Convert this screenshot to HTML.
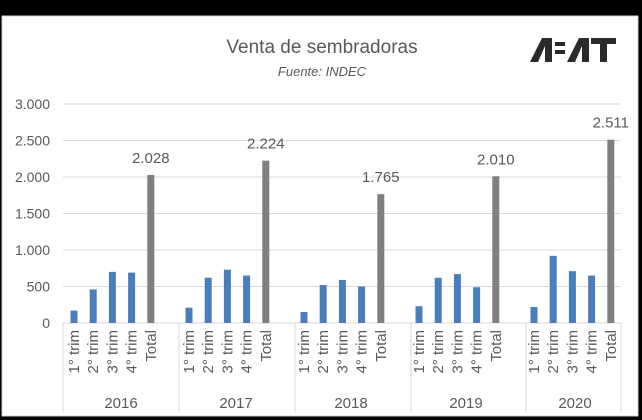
<!DOCTYPE html>
<html><head><meta charset="utf-8"><style>
html,body{margin:0;padding:0;background:#000;}
svg{display:block;}
text{font-family:"Liberation Sans",sans-serif;fill:#595959;}
</style></head><body>
<svg width="642" height="420" viewBox="0 0 642 420">
<rect x="0" y="0" width="642" height="420" fill="#000"/>
<rect x="2" y="16" width="636" height="400" fill="#fff" stroke="#d0d0d0" stroke-width="1"/>
<text x="322" y="53" font-size="19" text-anchor="middle">Venta de sembradoras</text>
<text x="322" y="76" font-size="13" font-style="italic" text-anchor="middle">Fuente: INDEC</text>
<g fill="#2a2a2a">
<polygon points="530,62 542,38 552,38 552,62 545,62 545,46 538,62"/>
<rect x="555" y="42" width="10" height="4"/><rect x="555" y="50" width="10" height="4"/>
<polygon points="567,62 579,38 589,38 589,62 582,62 582,46 575,62"/>
<rect x="591" y="38" width="25" height="6"/><rect x="600" y="38" width="7" height="24"/>
</g>
<g stroke="#d9d9d9" stroke-width="1">
<line x1="63" y1="104" x2="621" y2="104"/><line x1="63" y1="140.5" x2="621" y2="140.5"/>
<line x1="63" y1="177" x2="621" y2="177"/><line x1="63" y1="213.5" x2="621" y2="213.5"/>
<line x1="63" y1="250" x2="621" y2="250"/><line x1="63" y1="286.5" x2="621" y2="286.5"/>
<line x1="63" y1="323" x2="621" y2="323"/>
<line x1="63" y1="323" x2="63" y2="412"/><line x1="179" y1="323" x2="179" y2="412"/>
<line x1="295" y1="323" x2="295" y2="412"/><line x1="411" y1="323" x2="411" y2="412"/>
<line x1="526" y1="323" x2="526" y2="412"/><line x1="621" y1="323" x2="621" y2="412"/>
</g>
<g font-size="14" text-anchor="end">
<text x="50" y="109">3.000</text><text x="50" y="145.5">2.500</text><text x="50" y="182">2.000</text>
<text x="50" y="218.5">1.500</text><text x="50" y="255">1.000</text><text x="50" y="291.5">500</text><text x="50" y="328">0</text>
</g>
<g id="bars"></g>
</svg>
<script>
var data=[[2016,[170,460,700,690,2028],"2.028"],[2017,[210,620,730,650,2224],"2.224"],[2018,[150,520,590,500,1765],"1.765"],[2019,[230,620,670,490,2010],"2.010"],[2020,[220,920,710,650,2511],"2.511"]];
var labs=["1° trim","2° trim","3° trim","4° trim","Total"];
var s="";
data.forEach(function(d,g){
 var st=63+115*g;
 d[1].forEach(function(v,i){
  var cx=st+11+19.2*i,h=v*0.073,y=323-h;
  s+='<rect x="'+(cx-3.5)+'" y="'+y+'" width="7" height="'+h+'" fill="'+(i==4?'#7f7f7f':'#4a7ebb')+'"/>';
  s+='<text font-size="15" transform="translate('+(cx+5)+',330) rotate(-90)" text-anchor="end">'+labs[i]+'</text>';
  if(i==4) s+='<text x="'+cx+'" y="'+(y-12)+'" font-size="15" text-anchor="middle">'+d[2]+'</text>';
 });
 s+='<text x="'+(st+(g==4?52:58))+'" y="408" font-size="15" text-anchor="middle">'+d[0]+'</text>';
});
document.getElementById("bars").innerHTML=s;
</script>
</body></html>
